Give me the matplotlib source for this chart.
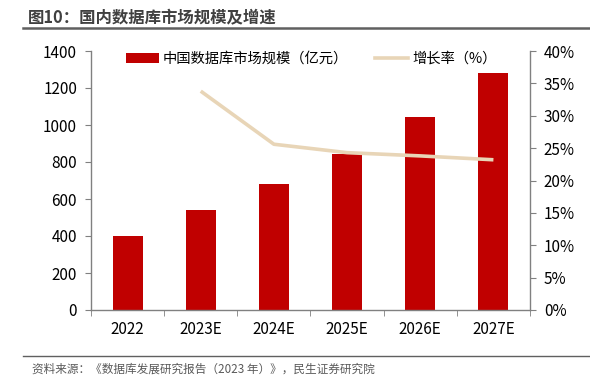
import matplotlib
matplotlib.use("Agg")
import matplotlib.pyplot as plt
from matplotlib.lines import Line2D
from matplotlib.patches import Patch
from matplotlib.ticker import FuncFormatter, MultipleLocator

plt.rcParams['font.family'] = ['Noto Sans CJK SC', 'DejaVu Sans']

# --- data ---
years = ['2022', '2023E', '2024E', '2025E', '2026E', '2027E']
market_size = [400, 540, 681, 843, 1043, 1281]          # 亿元
growth_years = ['2023E', '2024E', '2025E', '2026E', '2027E']
growth_rate = [33.8, 25.6, 24.3, 23.8, 23.2]             # %

title = '图10：国内数据库市场规模及增速'
source = '资料来源：《数据库发展研究报告（2023 年）》，民生证券研究院'
bar_label = '中国数据库市场规模（亿元）'
line_label = '增长率（%）'

BAR_COLOR = '#C00000'
LINE_COLOR = '#E8D5B7'
AXIS_COLOR = '#808080'

fig = plt.figure(figsize=(5.9, 3.9), dpi=100)
ax = fig.add_axes([91 / 590, 1 - 310 / 390, (530 - 91) / 590, (310 - 51) / 390])
ax2 = ax.twinx()

x = list(range(len(years)))
ax.bar(x, market_size, width=0.41, color=BAR_COLOR, zorder=2)
gx = [years.index(y) for y in growth_years]
ax2.plot(gx, growth_rate, color=LINE_COLOR, linewidth=2.6, solid_capstyle='butt', zorder=3)

# left axis
ax.set_xlim(-0.5, len(years) - 0.5)
ax.set_ylim(0, 1400)
ax.yaxis.set_major_locator(MultipleLocator(200))
ax.set_xticks(x)
ax.set_xticklabels(years)
ax.set_xticks([i - 0.5 for i in range(len(years) + 1)], minor=True)
ax.tick_params(axis='x', which='major', length=0, pad=8, labelsize=11)
ax.tick_params(axis='x', which='minor', length=4, color=AXIS_COLOR, direction='out')
ax.tick_params(axis='y', length=4, color=AXIS_COLOR, labelsize=11, pad=6)

# right axis
ax2.set_ylim(0, 40)
ax2.yaxis.set_major_locator(MultipleLocator(5))
ax2.yaxis.set_major_formatter(FuncFormatter(lambda v, p: f'{v:.0f}%'))
ax2.tick_params(axis='y', length=4, color=AXIS_COLOR, labelsize=11, pad=6)

for a in (ax, ax2):
    a.spines['top'].set_visible(False)
    for s in ('left', 'right', 'bottom'):
        a.spines[s].set_color(AXIS_COLOR)
        a.spines[s].set_linewidth(1.0)
ax.spines['right'].set_visible(False)
ax2.spines['bottom'].set_visible(False)
ax2.spines['left'].set_visible(False)

# legend
handles = [Patch(facecolor=BAR_COLOR, edgecolor='none'),
           Line2D([0], [0], color=LINE_COLOR, linewidth=2.6)]
fig.legend(handles, [bar_label, line_label], loc='center left',
           bbox_to_anchor=(120 / 590, 1 - 59 / 390), ncol=2, frameon=False,
           fontsize=10.3, handlelength=2.3, handleheight=0.7, handletextpad=0.3,
           columnspacing=1.9, borderaxespad=0)

# title and source with rules
fig.text(28 / 590, 1 - 18 / 390, title, fontsize=11.8, fontweight='bold',
         color='#404040', va='center', ha='left')
fig.add_artist(Line2D([23 / 590, 589 / 590], [1 - 28 / 390] * 2,
                      color='#606060', linewidth=1.8))
fig.add_artist(Line2D([23 / 590, 589 / 590], [1 - 356 / 390] * 2,
                      color='#606060', linewidth=1.0))
fig.text(32 / 590, 1 - 369 / 390, source, fontsize=8.4, color='#595959',
         va='center', ha='left')

fig.savefig('out.png', dpi=100)
